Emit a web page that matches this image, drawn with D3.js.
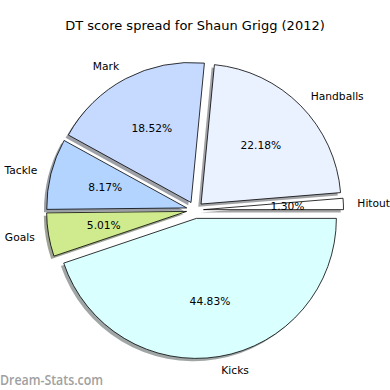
<!DOCTYPE html>
<html>
<head>
<meta charset="utf-8">
<script src="https://cdn.jsdelivr.net/npm/d3@7"></script>
<style>
  html, body { margin: 0; padding: 0; background: #fff; }
  svg { display: block; font-family: "DejaVu Sans", sans-serif; }
</style>
</head>
<body>
<div id="chart"></div>
<script>
// Slices in counter-clockwise order, starting at 3 o'clock
const categories = ['Hitout', 'Handballs', 'Mark', 'Tackle', 'Goals', 'Kicks'];
const shares = [1.30, 22.18, 18.52, 8.17, 5.01, 44.83];
const sliceColors = ['#ffffff', '#eaf1ff', '#c6d9ff', '#b3d4ff', '#d0eb8e', '#d9ffff'];
const title = 'DT score spread for Shaun Grigg (2012)';

const width = 390, height = 390;
const cx = 195, cy = 210;
const radius = 140;
const explode = 8.5;

const svg = d3.select('#chart')
    .append('svg')
    .attr('width', width)
    .attr('height', height);

// Title
svg.append('text')
    .attr('x', width / 2)
    .attr('y', 30)
    .attr('text-anchor', 'middle')
    .attr('font-size', '13px')
    .attr('fill', '#000')
    .text(title);

// d3 angles go clockwise from 12 o'clock, so run from 3 o'clock backwards
const pie = d3.pie()
    .sort(null)
    .startAngle(Math.PI / 2)
    .endAngle(Math.PI / 2 - 2 * Math.PI);

const arcs = pie(shares);
const arc = d3.arc().innerRadius(0).outerRadius(radius);

const mid = d => (d.startAngle + d.endAngle) / 2;
const dir = d => [Math.sin(mid(d)), -Math.cos(mid(d))];

const g = svg.append('g').attr('transform', `translate(${cx},${cy})`);

// Shadows first, behind all wedges
g.selectAll('path.shadow')
    .data(arcs)
    .join('path')
    .attr('class', 'shadow')
    .attr('d', arc)
    .attr('transform', d => {
        const [dx, dy] = dir(d);
        return `translate(${dx * explode - 2.8},${dy * explode + 2.8})`;
    })
    .attr('fill', (d, i) => {
        const c = d3.rgb(sliceColors[i]);
        return d3.rgb(c.r * 0.3, c.g * 0.3, c.b * 0.3);
    })
    .attr('fill-opacity', 0.5)
    .attr('stroke', 'none');

// Wedges
g.selectAll('path.wedge')
    .data(arcs)
    .join('path')
    .attr('class', 'wedge')
    .attr('d', arc)
    .attr('transform', d => {
        const [dx, dy] = dir(d);
        return `translate(${dx * explode},${dy * explode})`;
    })
    .attr('fill', (d, i) => sliceColors[i])
    .attr('stroke', '#000')
    .attr('stroke-width', 0.8)
    .attr('stroke-linejoin', 'round');

// Percent labels at 0.6 r
g.selectAll('text.pct')
    .data(arcs)
    .join('text')
    .attr('class', 'pct')
    .attr('x', d => dir(d)[0] * (explode + radius * 0.6))
    .attr('y', d => dir(d)[1] * (explode + radius * 0.6))
    .attr('dy', '0.36em')
    .attr('text-anchor', 'middle')
    .attr('font-size', '10.7px')
    .attr('fill', '#000')
    .text(d => d.data.toFixed(2) + '%');

// Category labels at 1.1 r
g.selectAll('text.label')
    .data(arcs)
    .join('text')
    .attr('class', 'label')
    .attr('x', d => dir(d)[0] * (explode + radius * 1.1))
    .attr('y', d => dir(d)[1] * (explode + radius * 1.1))
    .attr('dy', '0.36em')
    .attr('text-anchor', d => dir(d)[0] > 0 ? 'start' : 'end')
    .attr('font-size', '10.7px')
    .attr('fill', '#000')
    .text((d, i) => categories[i]);

// Watermark
svg.append('text')
    .attr('x', 0)
    .attr('y', 385)
    .attr('font-family', '"Open Sans", sans-serif')
    .attr('font-weight', 600)
    .attr('font-size', '13.5px')
    .attr('textLength', 103)
    .attr('lengthAdjust', 'spacingAndGlyphs')
    .attr('fill', '#a0a0a0')
    .text('Dream-Stats.com');
</script>
</body>
</html>
